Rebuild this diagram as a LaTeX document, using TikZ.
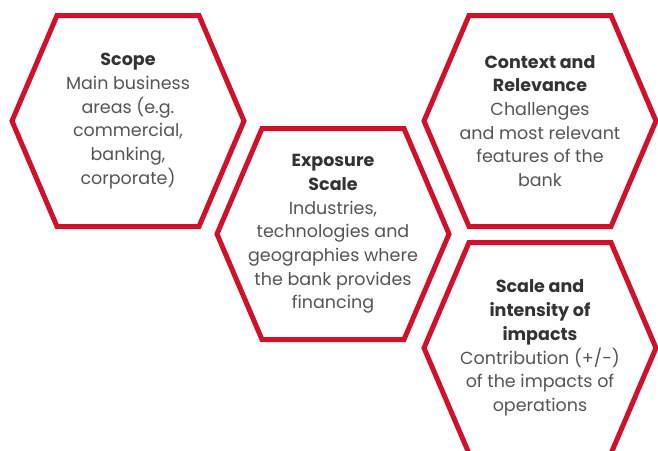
\documentclass[tikz,border=0pt]{standalone}
\usepackage{fontspec}
\setmainfont{Poppins}
\usetikzlibrary{calc}

\definecolor{hexred}{HTML}{D0112B}
\definecolor{titlegray}{HTML}{333333}
\definecolor{bodygray}{HTML}{555555}
\newcommand{\hexhead}[1]{{\bfseries\color{titlegray}#1}}

\begin{document}
\begin{tikzpicture}[
    x=1pt, y=-1pt,
    hexline/.style={draw=hexred,line width=5pt,line join=miter},
    every node/.append style={align=center,text=bodygray,inner sep=0pt,
      font=\fontsize{17.5}{23.7}\selectfont}
  ]
  \useasboundingbox (0,0) rectangle (658,450);
  \clip (0,0) rectangle (658,450);

  % texts sit at the hexagon centres
  \node (scope)    at (128,121) {\hexhead{Scope}\\Main business\\areas (e.g.\\commercial,\\banking,\\corporate)};
  \node (exposure) at (333,234) {\hexhead{Exposure}\\\hexhead{Scale}\\Industries,\\technologies and\\geographies where\\the bank provides\\financing};
  \node (context)  at (540,121) {\hexhead{Context and}\\\hexhead{Relevance}\\Challenges\\and most relevant\\features of the\\bank};
  \node (impacts)  at (540,348) {\hexhead{Scale and}\\\hexhead{intensity of}\\\hexhead{impacts}\\Contribution (+/-)\\of the impacts of\\operations};

  % hexagon frames
  \foreach \n in {scope,exposure,context,impacts}
    \draw[hexline] ($(\n)+(-116,0)$) -- ($(\n)+(-71,-105.5)$) -- ($(\n)+(71,-105.5)$)
      -- ($(\n)+(116,0)$) -- ($(\n)+(71,105.5)$) -- ($(\n)+(-71,105.5)$) -- cycle;
\end{tikzpicture}
\end{document}
